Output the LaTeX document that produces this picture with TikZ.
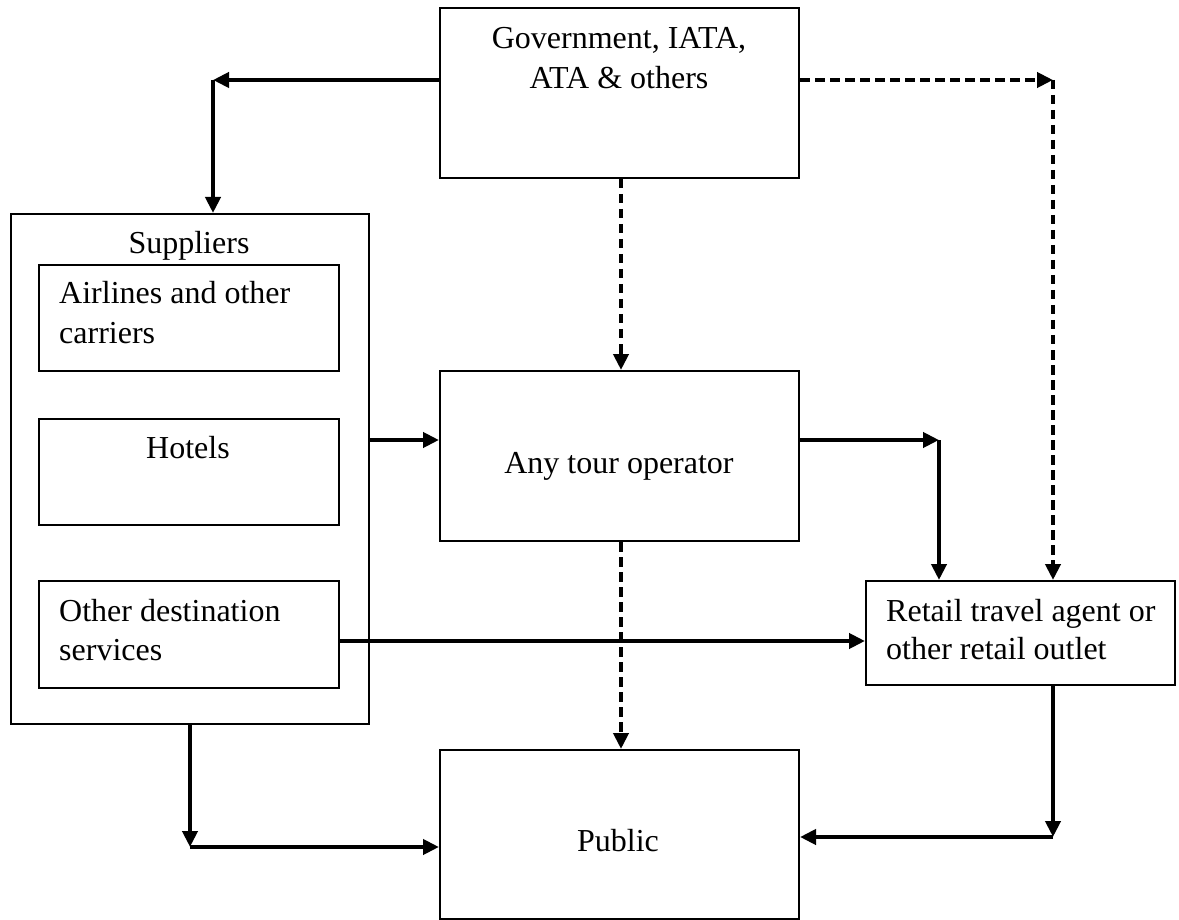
\documentclass[tikz,border=0pt]{standalone}
\usepackage{fontspec}
\setmainfont{Liberation Serif}
\usetikzlibrary{arrows.meta}
\begin{document}
\begin{tikzpicture}[x=1pt,y=-1pt,
  box/.style={draw=black,line width=2pt,rectangle,inner sep=0pt,anchor=north west},
  txt/.style={inner sep=0pt,anchor=base,font=\fontsize{32}{40}\selectfont},
  txtl/.style={txt,anchor=base west},
  conn/.style={line width=4pt,-{Triangle[length=16pt,width=15pt]}},
  dconn/.style={conn,dash pattern=on 9.5pt off 5.5pt}]
\useasboundingbox (0,0) rectangle (1179,920);
% boxes
\node[box,minimum width=359pt,minimum height=170pt] (gov) at (439,7) {};
\node[box,minimum width=358pt,minimum height=510pt] (sup) at (10,213) {};
\node[box,minimum width=300pt,minimum height=106pt] (air) at (38,264) {};
\node[box,minimum width=300pt,minimum height=106pt] (hot) at (38,418) {};
\node[box,minimum width=300pt,minimum height=107pt] (oth) at (38,580) {};
\node[box,minimum width=359pt,minimum height=170pt] (tour) at (439,370) {};
\node[box,minimum width=309pt,minimum height=104pt] (ret) at (865,580) {};
\node[box,minimum width=359pt,minimum height=169pt] (pub) at (439,749) {};
% texts
\node[txt] (t1) at (619,49) {Government, IATA,};
\node[txt] (t2) at (619,89) {ATA \& others};
\node[txt] (t3) at (189,254) {Suppliers};
\node[txtl] (t4) at (59,304) {Airlines and other};
\node[txtl] (t5) at (59,343) {carriers};
\node[txt] (t6) at (188,458) {Hotels};
\node[txtl] (t7) at (59,621) {Other destination};
\node[txtl] (t8) at (59,660) {services};
\node[txt] (t9) at (619,473) {Any tour operator};
\node[txtl] (t10) at (886,621) {Retail travel agent or};
\node[txtl] (t11) at (886,659) {other retail outlet};
\node[txt] (t12) at (618,851) {Public};
% bend points and levels
\coordinate (c1) at (213,80);
\coordinate (c2) at (1053,80);
\coordinate (c3) at (939,440);
\coordinate (c4) at (190,847);
\coordinate (c5) at (1053,837);
\coordinate (xm) at (621,0);
\coordinate (ya) at (0,641);
% connectors
\draw[conn] (c1 -| gov.west) -- (c1);
\draw[conn] (c1) -- (c1 |- sup.north);
\draw[dconn] (c2 -| gov.east) -- (c2);
\draw[dconn] (c2) -- (c2 |- ret.north);
\draw[dconn] (xm |- gov.south) -- (xm |- tour.north);
\draw[conn] (c3 -| sup.east) -- (c3 -| tour.west);
\draw[conn] (c3 -| tour.east) -- (c3);
\draw[conn] (c3) -- (c3 |- ret.north);
\draw[conn] (ya -| oth.east) -- (ya -| ret.west);
\draw[dconn] (xm |- tour.south) -- (xm |- pub.north);
\draw[conn] (c4 |- sup.south) -- (c4);
\draw[conn] (c4) -- (c4 -| pub.west);
\draw[conn] (c5 |- ret.south) -- (c5);
\draw[conn] (c5) -- (c5 -| pub.east);
\end{tikzpicture}
\end{document}
